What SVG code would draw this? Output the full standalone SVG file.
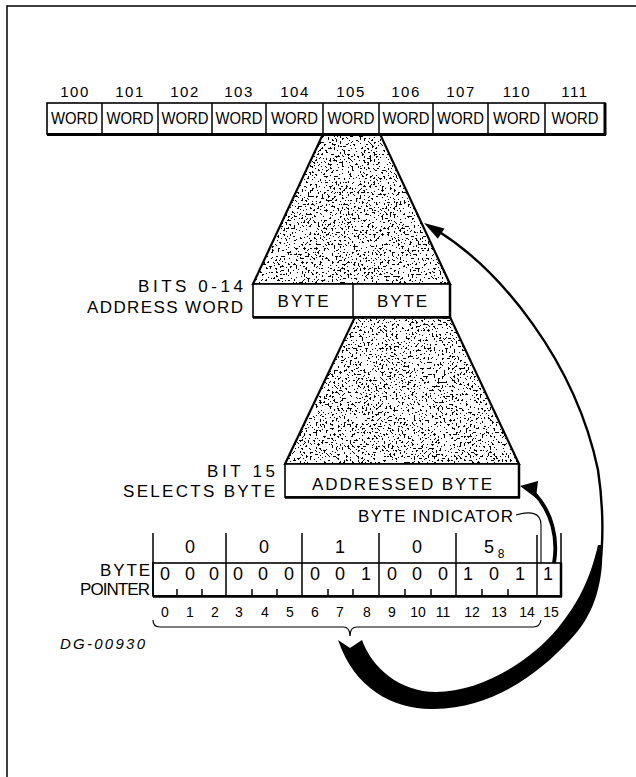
<svg xmlns="http://www.w3.org/2000/svg" width="636" height="777" viewBox="0 0 636 777">
<style>
.ln{fill:none;stroke:#000;stroke-width:1.5}
.th{fill:none;stroke:#000;stroke-width:3}
.bx{fill:#fff;stroke:#000;stroke-width:1.6}
.tri{fill:none;stroke:#000;stroke-width:2.2;stroke-linejoin:miter}
.t{font-family:"Liberation Sans",Arial,sans-serif;fill:#000}
.lb{font-size:17px}
.wd{font-size:16px;text-anchor:middle}
.ad{font-size:15px;text-anchor:middle;letter-spacing:1.5px}
.bv{font-size:18px;text-anchor:middle}
.bn{font-size:14px;text-anchor:middle}
.e{text-anchor:end}
.m{text-anchor:middle}
</style>
<defs>
<filter id="stip" x="0" y="0" width="100%" height="100%" color-interpolation-filters="sRGB">
<feTurbulence type="fractalNoise" baseFrequency="0.5" numOctaves="3" seed="7"/>
<feColorMatrix type="matrix" values="0 0 0 0 0  0 0 0 0 0  0 0 0 0 0  1 0 0 0 0"/>
<feComponentTransfer><feFuncA type="discrete" tableValues="0 0 0 0 0 0 0 0 1 1 1 1 1"/></feComponentTransfer>
</filter>
<clipPath id="c1"><polygon points="323,134 380,134 450,284 253,284"/></clipPath>
<clipPath id="c2"><polygon points="355,317 450,317 519,464 285,464"/></clipPath>
</defs>
<rect width="636" height="777" fill="#fff"/>
<path d="M7,777 V6 H636" class="ln"/>

<g id="memory-words">
<rect x="47" y="103" width="558" height="31" class="bx"/>
<path d="M47,134.5 H606 M605,103 V135" class="th"/>
<path d="M102,103V134 M158,103V134 M212,103V134 M266,103V134 M323,103V134 M379,103V134 M433,103V134 M488,103V134 M545,103V134" class="ln"/>
<g class="t ad">
<text x="75" y="97">100</text><text x="130" y="97">101</text><text x="185" y="97">102</text><text x="239" y="97">103</text><text x="295" y="97">104</text><text x="351" y="97">105</text><text x="406" y="97">106</text><text x="461" y="97">107</text><text x="517" y="97">110</text><text x="575" y="97">111</text>
</g>
<g class="t wd">
<text x="74.5" y="124" textLength="47" lengthAdjust="spacingAndGlyphs">WORD</text><text x="130" y="124" textLength="47" lengthAdjust="spacingAndGlyphs">WORD</text><text x="185" y="124" textLength="47" lengthAdjust="spacingAndGlyphs">WORD</text><text x="239" y="124" textLength="47" lengthAdjust="spacingAndGlyphs">WORD</text><text x="294.5" y="124" textLength="47" lengthAdjust="spacingAndGlyphs">WORD</text><text x="351" y="124" textLength="47" lengthAdjust="spacingAndGlyphs">WORD</text><text x="406" y="124" textLength="47" lengthAdjust="spacingAndGlyphs">WORD</text><text x="460.5" y="124" textLength="47" lengthAdjust="spacingAndGlyphs">WORD</text><text x="516.5" y="124" textLength="47" lengthAdjust="spacingAndGlyphs">WORD</text><text x="575" y="124" textLength="47" lengthAdjust="spacingAndGlyphs">WORD</text>
</g>
</g>

<g id="word-expansion">
<rect x="250" y="134" width="205" height="151" fill="#000" filter="url(#stip)" clip-path="url(#c1)"/>
<polygon points="323,134 380,134 450,284 253,284" class="tri"/>
</g>

<g id="word-bytes">
<rect x="253" y="284" width="197" height="33" class="bx"/>
<path d="M253,317.5 H451 M450,284 V318" class="th" style="stroke-width:2.5"/>
<line x1="353" y1="284" x2="353" y2="317" class="ln"/>
<text x="303" y="307" class="t lb m" textLength="51">BYTE</text>
<text x="402" y="307" class="t lb m" textLength="50">BYTE</text>
<text x="243" y="292" class="t lb e" textLength="105">BITS 0-14</text>
<text x="243" y="313" class="t lb e" textLength="156">ADDRESS WORD</text>
</g>

<g id="byte-expansion">
<rect x="282" y="317" width="240" height="148" fill="#000" filter="url(#stip)" clip-path="url(#c2)"/>
<polygon points="355,317 450,317 519,464 285,464" class="tri"/>
</g>

<g id="addressed-byte">
<rect x="285" y="464" width="234" height="33" class="bx"/>
<path d="M285,497.5 H520 M519,464 V498" class="th" style="stroke-width:2.5"/>
<text x="402" y="490" class="t lb m" textLength="180">ADDRESSED BYTE</text>
<text x="275" y="477" class="t lb e" textLength="68">BIT 15</text>
<text x="275" y="497" class="t lb e" textLength="152">SELECTS BYTE</text>
</g>

<g id="byte-pointer">
<rect x="153" y="563" width="408" height="33" class="bx"/>
<path d="M153,596.5 H562 M561,563 V597" class="th" style="stroke-width:2.5"/>
<path d="M153,533 V596 M226,533 V596 M302,533 V596 M379,533 V596 M456,533 V596 M537,535 V596 M561,533 V563" class="ln"/>
<path d="M177,589V596 M202,589V596 M252,589V596 M277,589V596 M328,589V596 M353,589V596 M405,589V596 M431,589V596 M482,589V596 M508,589V596" class="ln"/>
<g class="t bv">
<text x="190" y="553">0</text><text x="264" y="553">0</text><text x="340" y="553">1</text><text x="417" y="553">0</text>
<text x="489" y="553">5</text><text x="501" y="558" style="font-size:12px">8</text>
</g>
<g class="t bv">
<text x="165" y="580">0</text><text x="190" y="580">0</text><text x="214" y="580">0</text>
<text x="238" y="580">0</text><text x="263" y="580">0</text><text x="289" y="580">0</text>
<text x="315" y="580">0</text><text x="340" y="580">0</text><text x="366" y="580">1</text>
<text x="392" y="580">0</text><text x="417" y="580">0</text><text x="443" y="580">0</text>
<text x="468" y="580">1</text><text x="494" y="580">0</text><text x="520" y="580">1</text>
<text x="548" y="580">1</text>
</g>
<g class="t bn">
<text x="165" y="617">0</text><text x="190" y="617">1</text><text x="215" y="617">2</text><text x="239" y="617">3</text><text x="265" y="617">4</text><text x="290" y="617">5</text><text x="315" y="617">6</text><text x="340" y="617">7</text><text x="367" y="617">8</text><text x="392" y="617">9</text><text x="418" y="617">10</text><text x="443" y="617">11</text><text x="472" y="617">12</text><text x="499" y="617">13</text><text x="527" y="617">14</text><text x="551" y="617">15</text>
</g>
<text x="150" y="576" class="t lb e" textLength="50">BYTE</text>
<text x="150" y="595" class="t lb e" textLength="70">POINTER</text>
<text x="358" y="522" class="t lb" textLength="155">BYTE INDICATOR</text>
<path d="M153,620 Q153,627 160,627 H343 Q350,627 350,636 Q350,627 357,627 H533 Q540,627 541,620" class="ln" style="stroke-width:1.2"/>
<text x="60" y="649" class="t" style="font-size:15px;font-style:italic" textLength="85">DG-00930</text>
</g>

<g id="connectors">
<path d="M516,515 C530,511 541,512 541,525 L541,563" class="ln" style="stroke-width:1.1"/>
<path d="M554,563 C558,540 553,512 533,492" fill="none" stroke="#000" stroke-width="3.8"/>
<polygon points="520,486 538,481 536,498" fill="#000"/>
<path d="M438,231 C500,270 575,360 598,470 C604,510 603,545 600,565" fill="none" stroke="#000" stroke-width="2.4"/>
<polygon points="424,223 444.5,228.5 437.8,238.7" fill="#000"/>
<path d="M602,545 C604,580 595,615 570,640 C540,672 495,708 434,709 C395,710 355,690 338,640 L350,648 L362,640 C372,668 400,692 436,692 C480,692 530,662 558,628 C578,603 590,580 598,545 Z" fill="#000"/>
</g>
</svg>
